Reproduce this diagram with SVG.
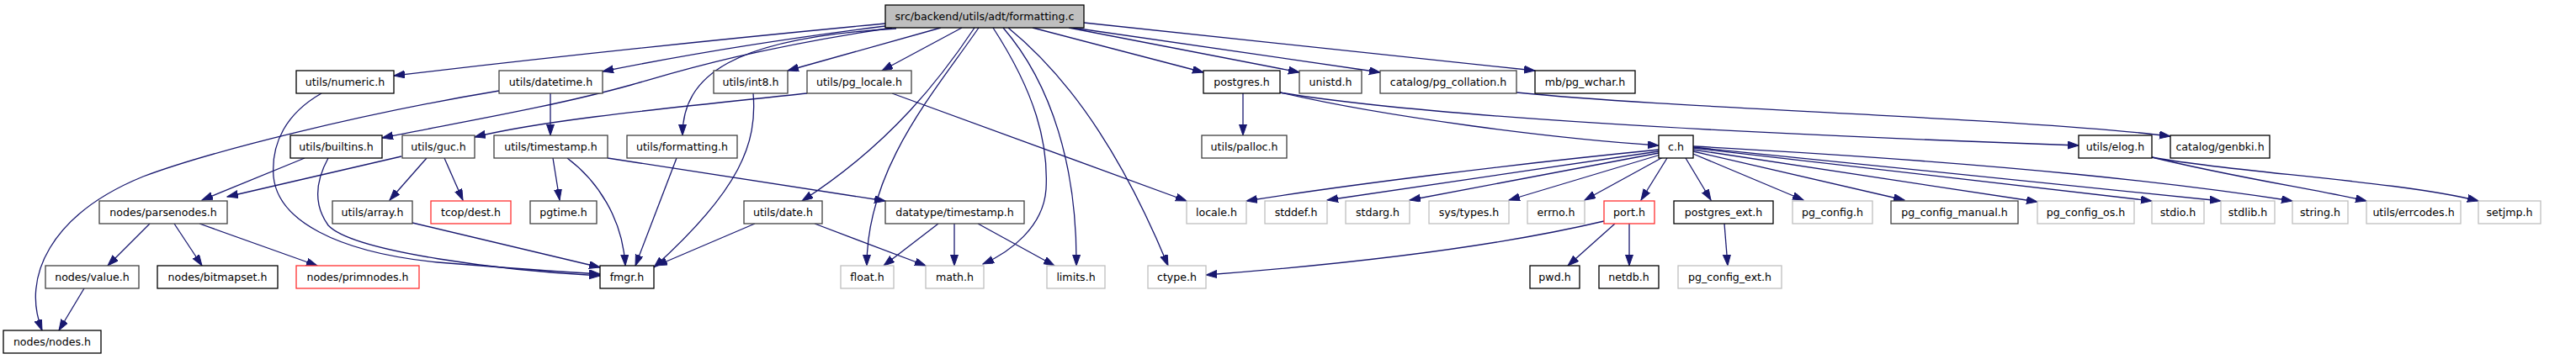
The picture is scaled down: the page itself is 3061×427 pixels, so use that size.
<svg xmlns="http://www.w3.org/2000/svg" width="3061" height="427" viewBox="0 0 3061 427">
<style>
rect{fill:#fff;stroke:#000;stroke-width:1.3}
.d rect{stroke:#404040}
.g rect{stroke:#bfbfbf}
.r rect{stroke:#ff3030}
.top rect{fill:#bfbfbf;stroke:#000}
text{font-family:"DejaVu Sans",sans-serif;font-size:12.6px;text-anchor:middle;fill:#000}
#edges path{fill:none;stroke:#191970;stroke-width:1.3;marker-end:url(#ah)}
</style>
<defs>
<marker id="ah" markerUnits="userSpaceOnUse" markerWidth="14" markerHeight="10" refX="13" refY="4.5" orient="auto">
<path d="M0,0 L13,4.5 L0,9 z" fill="#191970" stroke="#191970" stroke-width="1"/>
</marker>
</defs>
<rect x="0" y="0" width="3061" height="427" style="fill:#fff;stroke:none"/>
<g id="edges">
<path d="M1052,28 C800,52 620,72 468,90"/>
<path d="M1052,31 C900,50 800,68 716,85"/>
<path d="M1060,33 C880,60 790,90 750,101 C660,126 560,143 454,164"/>
<path d="M1065,34 C870,45 811,90 811,161"/>
<path d="M1118,33 L936,84"/>
<path d="M1143,33 L1048,84"/>
<path d="M1158,33 C1120,90 1060,170 953,239"/>
<path d="M1163,33 C1110,110 1030,200 1030,316"/>
<path d="M1180,33 C1230,110 1246,170 1243,225 C1240,270 1200,300 1168,314"/>
<path d="M1192,33 C1250,100 1280,200 1279,316"/>
<path d="M1198,33 C1280,100 1340,200 1388,316"/>
<path d="M1227,33 L1430,86"/>
<path d="M1270,33 L1544,86"/>
<path d="M1275,33 L1640,86"/>
<path d="M1288,27 L1824,84"/>
<path d="M382,111 C340,135 322,170 325,210 C330,262 400,300 520,312 C620,320 680,324 713,326"/>
<path d="M390,188 C378,210 370,240 390,268 C420,300 600,322 713,328"/>
<path d="M362,188 L240,238"/>
<path d="M477,186 L270,234"/>
<path d="M507,188 L463,238"/>
<path d="M528,188 L550,238"/>
<path d="M654,111 L654,161"/>
<path d="M593,108 C430,135 250,180 170,210 C60,255 25,330 50,393"/>
<path d="M657,188 L665,238"/>
<path d="M674,188 C710,215 740,260 743,316"/>
<path d="M722,188 L1052,239"/>
<path d="M804,188 L755,316"/>
<path d="M895,111 C900,170 880,225 777,318"/>
<path d="M959,111 C800,128 650,142 564,163"/>
<path d="M1060,111 L1410,239"/>
<path d="M897,266 L780,316"/>
<path d="M968,266 L1100,316"/>
<path d="M1115,266 L1050,316"/>
<path d="M1134,266 L1134,316"/>
<path d="M1162,266 L1253,316"/>
<path d="M1477,111 L1477,161"/>
<path d="M1521,110 C1650,140 1850,165 1971,173"/>
<path d="M1521,110 C1700,140 2100,160 2470,173"/>
<path d="M1802,110 C2000,130 2400,140 2579,162"/>
<path d="M1971,178 C1800,195 1600,220 1481,239"/>
<path d="M1971,180 L1577,238"/>
<path d="M1971,182 L1675,238"/>
<path d="M1973,184 L1793,238"/>
<path d="M1976,187 L1883,238"/>
<path d="M1981,188 L1950,238"/>
<path d="M2003,188 L2033,238"/>
<path d="M2012,183 L2143,238"/>
<path d="M2012,180 L2263,238"/>
<path d="M2012,178 L2421,240"/>
<path d="M2012,176 L2557,239"/>
<path d="M2012,175 L2639,239"/>
<path d="M2012,174 C2400,195 2600,220 2724,239"/>
<path d="M2557,187 C2650,210 2750,225 2812,239"/>
<path d="M2557,187 C2650,205 2850,215 2945,239"/>
<path d="M1919,266 L1863,316"/>
<path d="M1936,266 L1936,316"/>
<path d="M1906,263 C1750,300 1550,318 1433,327"/>
<path d="M2049,266 L2053,316"/>
<path d="M178,266 L128,316"/>
<path d="M207,266 L240,316"/>
<path d="M237,266 L377,316"/>
<path d="M100,343 L70,393"/>
<path d="M490,265 L713,318"/>
</g>
<g id="n_top" class="top"><rect x="1052" y="6" width="236" height="27"/><text x="1170" y="24">src/backend/utils/adt/formatting.c</text></g>
<g id="n_numeric"><rect x="352" y="84" width="116" height="27"/><text x="410" y="102">utils/numeric.h</text></g>
<g id="n_datetime" class="d"><rect x="593" y="84" width="123" height="27"/><text x="654.5" y="102">utils/datetime.h</text></g>
<g id="n_int8" class="d"><rect x="848" y="84" width="88" height="27"/><text x="892" y="102">utils/int8.h</text></g>
<g id="n_pg_locale" class="d"><rect x="959" y="84" width="124" height="27"/><text x="1021" y="102">utils/pg_locale.h</text></g>
<g id="n_postgres"><rect x="1430" y="84" width="91" height="27"/><text x="1475.5" y="102">postgres.h</text></g>
<g id="n_unistd" class="d"><rect x="1544" y="84" width="74" height="27"/><text x="1581" y="102">unistd.h</text></g>
<g id="n_pg_collation" class="d"><rect x="1640" y="84" width="162" height="27"/><text x="1721" y="102">catalog/pg_collation.h</text></g>
<g id="n_pg_wchar"><rect x="1824" y="84" width="119" height="27"/><text x="1883.5" y="102">mb/pg_wchar.h</text></g>
<g id="n_builtins"><rect x="345" y="161" width="109" height="27"/><text x="399.5" y="179">utils/builtins.h</text></g>
<g id="n_guc" class="d"><rect x="478" y="161" width="86" height="27"/><text x="521" y="179">utils/guc.h</text></g>
<g id="n_timestamp" class="d"><rect x="587" y="161" width="135" height="27"/><text x="654.5" y="179">utils/timestamp.h</text></g>
<g id="n_formatting" class="d"><rect x="745" y="161" width="131" height="27"/><text x="810.5" y="179">utils/formatting.h</text></g>
<g id="n_palloc" class="d"><rect x="1428" y="161" width="101" height="27"/><text x="1478.5" y="179">utils/palloc.h</text></g>
<g id="n_c"><rect x="1971" y="161" width="41" height="27"/><text x="1991.5" y="179">c.h</text></g>
<g id="n_elog"><rect x="2470" y="161" width="87" height="27"/><text x="2513.5" y="179">utils/elog.h</text></g>
<g id="n_genbki"><rect x="2579" y="161" width="118" height="27"/><text x="2638" y="179">catalog/genbki.h</text></g>
<g id="n_parsenodes" class="d"><rect x="118" y="239" width="152" height="27"/><text x="194" y="257">nodes/parsenodes.h</text></g>
<g id="n_array" class="d"><rect x="395" y="239" width="95" height="27"/><text x="442.5" y="257">utils/array.h</text></g>
<g id="n_dest" class="r"><rect x="512" y="239" width="95" height="27"/><text x="559.5" y="257">tcop/dest.h</text></g>
<g id="n_pgtime" class="d"><rect x="630" y="239" width="79" height="27"/><text x="669.5" y="257">pgtime.h</text></g>
<g id="n_date" class="d"><rect x="884" y="239" width="93" height="27"/><text x="930.5" y="257">utils/date.h</text></g>
<g id="n_dt_timestamp" class="d"><rect x="1052" y="239" width="165" height="27"/><text x="1134.5" y="257">datatype/timestamp.h</text></g>
<g id="n_locale" class="g"><rect x="1410" y="239" width="71" height="27"/><text x="1445.5" y="257">locale.h</text></g>
<g id="n_stddef" class="g"><rect x="1503" y="239" width="74" height="27"/><text x="1540" y="257">stddef.h</text></g>
<g id="n_stdarg" class="g"><rect x="1599" y="239" width="76" height="27"/><text x="1637" y="257">stdarg.h</text></g>
<g id="n_systypes" class="g"><rect x="1698" y="239" width="95" height="27"/><text x="1745.5" y="257">sys/types.h</text></g>
<g id="n_errno" class="g"><rect x="1815" y="239" width="68" height="27"/><text x="1849" y="257">errno.h</text></g>
<g id="n_port" class="r"><rect x="1906" y="239" width="60" height="27"/><text x="1936" y="257">port.h</text></g>
<g id="n_postgres_ext"><rect x="1989" y="239" width="118" height="27"/><text x="2048" y="257">postgres_ext.h</text></g>
<g id="n_pg_config" class="g"><rect x="2130" y="239" width="95" height="27"/><text x="2177.5" y="257">pg_config.h</text></g>
<g id="n_pg_config_manual" class="d"><rect x="2247" y="239" width="151" height="27"/><text x="2322.5" y="257">pg_config_manual.h</text></g>
<g id="n_pg_config_os" class="g"><rect x="2421" y="239" width="115" height="27"/><text x="2478.5" y="257">pg_config_os.h</text></g>
<g id="n_stdio" class="g"><rect x="2557" y="239" width="62" height="27"/><text x="2588" y="257">stdio.h</text></g>
<g id="n_stdlib" class="g"><rect x="2639" y="239" width="64" height="27"/><text x="2671" y="257">stdlib.h</text></g>
<g id="n_string" class="g"><rect x="2724" y="239" width="66" height="27"/><text x="2757" y="257">string.h</text></g>
<g id="n_errcodes" class="g"><rect x="2812" y="239" width="112" height="27"/><text x="2868" y="257">utils/errcodes.h</text></g>
<g id="n_setjmp" class="g"><rect x="2945" y="239" width="74" height="27"/><text x="2982" y="257">setjmp.h</text></g>
<g id="n_value" class="d"><rect x="54" y="316" width="111" height="27"/><text x="109.5" y="334">nodes/value.h</text></g>
<g id="n_bitmapset"><rect x="187" y="316" width="143" height="27"/><text x="258.5" y="334">nodes/bitmapset.h</text></g>
<g id="n_primnodes" class="r"><rect x="352" y="316" width="146" height="27"/><text x="425" y="334">nodes/primnodes.h</text></g>
<g id="n_fmgr"><rect x="713" y="316" width="64" height="27"/><text x="745" y="334">fmgr.h</text></g>
<g id="n_float" class="g"><rect x="999" y="316" width="63" height="27"/><text x="1030.5" y="334">float.h</text></g>
<g id="n_math" class="g"><rect x="1100" y="316" width="69" height="27"/><text x="1134.5" y="334">math.h</text></g>
<g id="n_limits" class="g"><rect x="1244" y="316" width="69" height="27"/><text x="1278.5" y="334">limits.h</text></g>
<g id="n_ctype" class="g"><rect x="1364" y="316" width="69" height="27"/><text x="1398.5" y="334">ctype.h</text></g>
<g id="n_pwd"><rect x="1818" y="316" width="59" height="27"/><text x="1847.5" y="334">pwd.h</text></g>
<g id="n_netdb"><rect x="1900" y="316" width="71" height="27"/><text x="1935.5" y="334">netdb.h</text></g>
<g id="n_pg_config_ext" class="g"><rect x="1994" y="316" width="123" height="27"/><text x="2055.5" y="334">pg_config_ext.h</text></g>
<g id="n_nodes"><rect x="4" y="393" width="116" height="27"/><text x="62" y="411">nodes/nodes.h</text></g>
</svg>
